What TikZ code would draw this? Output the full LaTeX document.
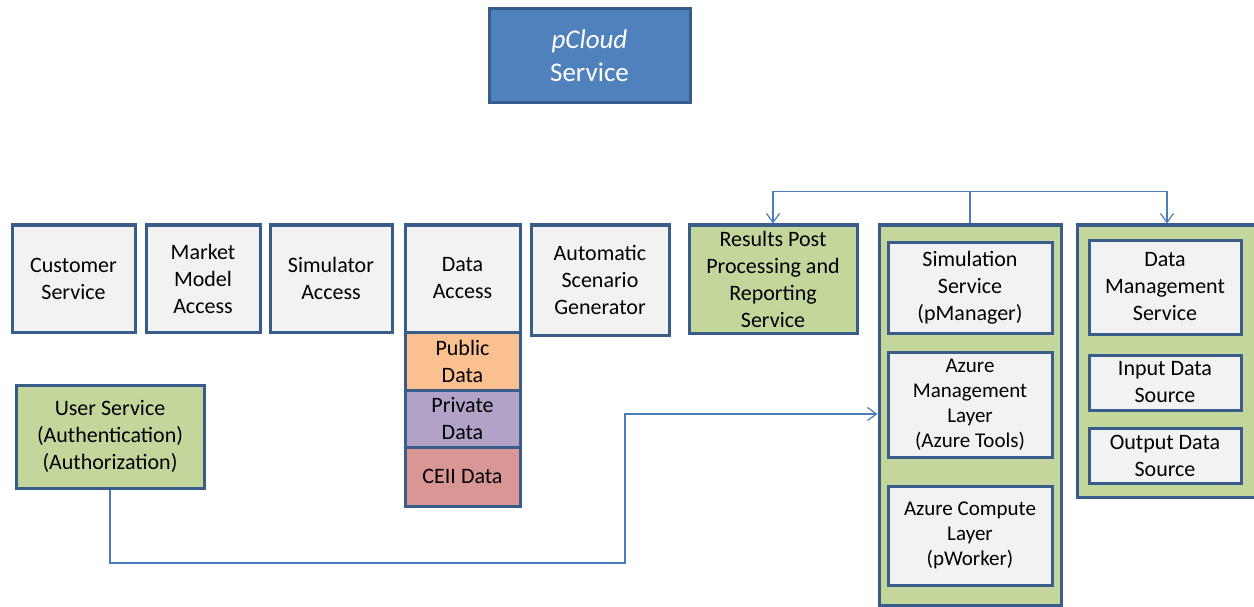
\documentclass[tikz,border=0pt]{standalone}
\usepackage{fontspec}
\setmainfont{Carlito}
\usetikzlibrary{arrows.meta}
\definecolor{edge}{RGB}{56,93,138}
\definecolor{wire}{RGB}{74,126,187}
\definecolor{boxgrey}{RGB}{242,242,242}
\definecolor{boxgreen}{RGB}{195,214,155}
\definecolor{boxblue}{RGB}{79,129,189}
\definecolor{boxorange}{RGB}{250,192,144}
\definecolor{boxpurple}{RGB}{179,162,199}
\definecolor{boxred}{RGB}{217,150,148}

\begin{document}
\begin{tikzpicture}[x=1pt, y=-1pt, >={Straight Barb[length=9pt,width=13pt]},
  font=\fontsize{22}{27}\selectfont,
  blk/.style={draw=edge, line width=3pt, fill=boxgrey, align=center, inner sep=2pt},
  grn/.style={blk, fill=boxgreen},
  small/.style={font=\fontsize{21}{25}\selectfont},
  conn/.style={draw=wire, line width=1.2pt}]
  \useasboundingbox (0,0) rectangle (1254,607);
  % top
  \node[blk, fill=boxblue, text=white, minimum width=201, minimum height=94, font=\fontsize{27}{33}\selectfont]
    (pcloud) at (589.5,56) {\textit{pCloud}\\Service};
  % row of access boxes
  \node[blk, minimum width=123, minimum height=107] (cust)   at (73.5,278.5) {Customer\\Service};
  \node[blk, minimum width=114, minimum height=107] (market) at (203,278.5)  {Market\\Model\\Access};
  \node[blk, minimum width=122, minimum height=107] (simacc) at (331,278.5)  {Simulator\\Access};
  \node[blk, minimum width=115, minimum height=107] (dacc)   at (462.5,278.5) {Data\\Access};
  \node[blk, fill=boxorange, minimum width=115, minimum height=58] (pub)  at (462.5,361)   {Public\\Data};
  \node[blk, fill=boxpurple, minimum width=115, minimum height=57] (priv) at (462.5,418.5) {Private\\Data};
  \node[blk, fill=boxred,    minimum width=115, minimum height=59] (ceii) at (462.5,476.5) {CEII Data};
  \node[blk, minimum width=138, minimum height=110] (autogen) at (600,280) {Automatic\\Scenario\\Generator};
  \node[grn, minimum width=168, minimum height=108] (results) at (773,279) {Results Post\\Processing and\\Reporting\\Service};
  % simulation group
  \node[grn, minimum width=182, minimum height=380] (simgrp) at (970,415) {};
  \node[blk, minimum width=164, minimum height=91]  (simsvc) at (970,287.5) {Simulation\\Service\\(pManager)};
  \node[blk, small, minimum width=164, minimum height=105] (azmgmt) at (970,404.5) {Azure\\Management\\Layer\\(Azure Tools)};
  \node[blk, small, minimum width=164, minimum height=99]  (azcomp) at (970,535.5) {Azure Compute\\Layer\\(pWorker)};
  % data group
  \node[grn, minimum width=180, minimum height=272] (datagrp) at (1167,361) {};
  \node[blk, minimum width=152, minimum height=94] (dms)    at (1165,287)   {Data\\Management\\Service};
  \node[blk, minimum width=152, minimum height=55] (input)  at (1165,382.5) {Input Data\\Source};
  \node[blk, minimum width=152, minimum height=55] (output) at (1165,455.5) {Output Data\\Source};
  % user service
  \node[grn, minimum width=188, minimum height=103] (user) at (110,436.5) {User Service\\(Authentication)\\(Authorization)};
  % connectors
  \draw[conn] (simgrp.north) -- ++(0,-32) coordinate (fork);
  \draw[conn,->] (fork) -| (results.north);
  \draw[conn,->] (fork) -| (datagrp.north);
  \coordinate (bend) at (625,563);
  \draw[conn,->] (user.south) |- (bend) |- (simgrp.west |- 0,414);
\end{tikzpicture}
\end{document}
